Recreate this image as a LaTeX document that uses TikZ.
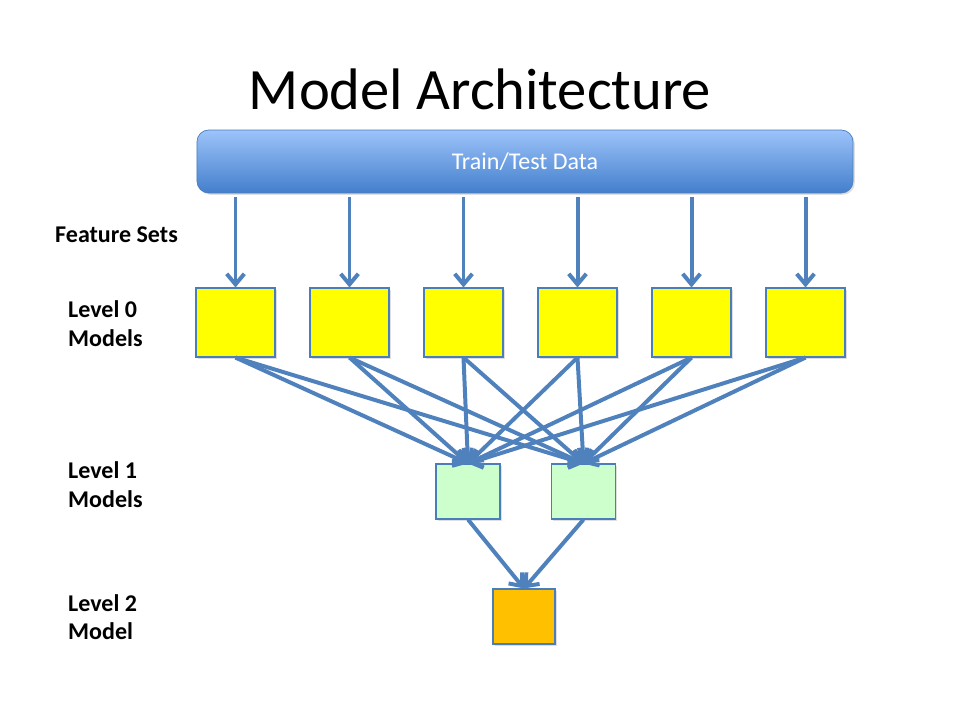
\documentclass[tikz,border=0pt]{standalone}
\usepackage{fontspec}
\setmainfont{Carlito}
\usepackage{tikz}
\usetikzlibrary{arrows.meta, shadows}

\definecolor{barTop}{HTML}{9DC3FA}
\definecolor{barBot}{HTML}{437FCC}
\definecolor{barEdge}{HTML}{4A7EBB}
\definecolor{lineBlue}{HTML}{4F81BD}
\definecolor{lvlZero}{HTML}{FFFF00}
\definecolor{lvlOne}{HTML}{CCFFCC}
\definecolor{lvlTwo}{HTML}{FFC000}

\tikzset{
  model/.style={rectangle, draw=barEdge, line width=0.9pt, inner sep=0pt,
    drop shadow={opacity=0.25, shadow xshift=1.5pt, shadow yshift=-1.5pt}},
  flow/.style={draw=lineBlue, line width=3.4pt,
    -{Straight Barb[length=9pt, width=15pt]}},
  label/.style={font=\bfseries\fontsize{20.5}{24.5}\selectfont, align=left,
    anchor=west, inner sep=0pt}
}

\begin{document}
\begin{tikzpicture}[x=0.03cm, y=-0.03cm]
\useasboundingbox (0,0) rectangle (960,720);

\node (title) at (480,89) {\fontsize{50}{56}\selectfont Model Architecture};

\node[rectangle, rounded corners=10pt, draw=barEdge, line width=0.6pt,
      top color=barTop, bottom color=barBot, minimum width=19.68cm,
      minimum height=1.89cm, text=white, font=\fontsize{20.5}{24}\selectfont,
      drop shadow={opacity=0.25, shadow xshift=1.5pt, shadow yshift=-1.5pt}]
      (data) at (525,161.5) {Train/Test Data};

% level labels
\node[label] (feat) at (55,235) {Feature Sets};
\node[label] (lab0) at (68,323.5) {Level 0\\Models};
\node[label] (lab1) at (68,484.5) {Level 1\\Models};
\node[label] (lab2) at (68,617) {Level 2\\Model};

\begin{scope}[every node/.style={model, fill=lvlZero, minimum width=2.37cm, minimum height=2.07cm}]
    \node (y1) at (235.5,322.5) {};
    \node (y2) at (349.5,322.5) {};
    \node (y3) at (463.5,322.5) {};
    \node (y4) at (577.5,322.5) {};
    \node (y5) at (691.5,322.5) {};
    \node (y6) at (805.5,322.5) {};
\end{scope}

\begin{scope}[every node/.style={model, fill=lvlOne, minimum width=1.92cm, minimum height=1.65cm}]
    \node (g1) at (468,491.5) {};
    \node (g2) at (583.5,491.5) {};
\end{scope}

\node[model, fill=lvlTwo, minimum width=1.86cm, minimum height=1.65cm] (o1) at (524,616.5) {};

% feature sets
\coordinate (d1) at (235.5,197);
\coordinate (d2) at (349.5,197);
\coordinate (d3) at (463.5,197);
\coordinate (d4) at (577.5,197);
\coordinate (d5) at (691.5,197);
\coordinate (d6) at (805.5,197);
\path[flow] (d1) -- (y1.north);
\path[flow] (d2) -- (y2.north);
\path[flow] (d3) -- (y3.north);
\path[flow] (d4) -- (y4.north);
\path[flow] (d5) -- (y5.north);
\path[flow] (d6) -- (y6.north);

% level 0 to level 1
\path[flow] (y1.south) -- (g1.north);
\path[flow] (y1.south) -- (g2.north);
\path[flow] (y2.south) -- (g1.north);
\path[flow] (y2.south) -- (g2.north);
\path[flow] (y3.south) -- (g1.north);
\path[flow] (y3.south) -- (g2.north);
\path[flow] (y4.south) -- (g1.north);
\path[flow] (y4.south) -- (g2.north);
\path[flow] (y5.south) -- (g1.north);
\path[flow] (y5.south) -- (g2.north);
\path[flow] (y6.south) -- (g1.north);
\path[flow] (y6.south) -- (g2.north);

% level 1 to level 2
\path[flow] (g1.south) -- (o1.north);
\path[flow] (g2.south) -- (o1.north);
\end{tikzpicture}
\end{document}
